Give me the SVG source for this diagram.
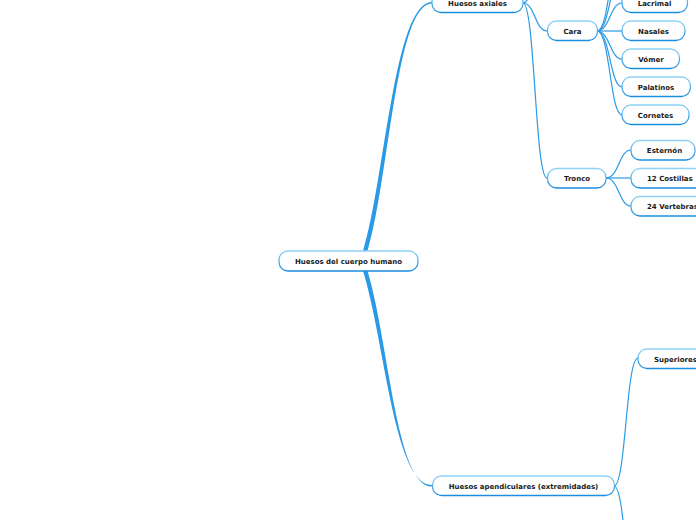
<svg xmlns="http://www.w3.org/2000/svg" width="696" height="520" viewBox="0 0 696 520">
<defs>
<linearGradient id="bd" x1="0" y1="0" x2="0" y2="1">
<stop offset="0" stop-color="#8fd1f7"/>
<stop offset="1" stop-color="#1a8de0"/>
</linearGradient>
<style>
.n{fill:#fff;stroke:url(#bd);stroke-width:1.3}
.t{font-family:"DejaVu Sans",Verdana,sans-serif;font-weight:bold;font-size:7px;fill:#1a1a1a;text-anchor:middle;dominant-baseline:central}
.tl{font-family:"DejaVu Sans",Verdana,sans-serif;font-weight:bold;font-size:7px;fill:#1a1a1a;dominant-baseline:central}
.c{fill:none;stroke:#2a9ae6;stroke-width:1.2}
.f{fill:#2a9ae6}
</style>
</defs>
<rect width="696" height="520" fill="#fff"/>
<g id="connectors">
<path class="f" d="M363,251 C385,180 394,2 432,2 L432,3.6 C396,3.6 389,180 367.5,251 Z"/>
<path class="f" d="M363,271 C385,342 394,485 432,485 L432,486.6 C396,486.6 389,342 367.5,271 Z"/>
<path class="c" d="M523,3 C535,3 535,31 547,31"/>
<path class="c" d="M523,3 C535,3 535,178 547,178"/>
<path class="c" d="M523,3 C530,3 530,-15 547,-20"/>
<path class="c" d="M597,31 C610,31 610,3 622,3"/>
<path class="c" d="M597,31 C610,31 610,-25 622,-25"/>
<path class="c" d="M597,31 C610,31 610,-53 622,-53"/>
<path class="c" d="M597,31 L622,31"/>
<path class="c" d="M597,31 C610,31 610,59 622,59"/>
<path class="c" d="M597,31 C610,31 610,87 622,87"/>
<path class="c" d="M597,31 C610,31 610,115 622,115"/>
<path class="c" d="M606,178 C619,178 619,150 631,150"/>
<path class="c" d="M606,178 L631,178"/>
<path class="c" d="M606,178 C619,178 619,206 631,206"/>
<path class="c" d="M614,486 C626,486 626,358 638,358"/>
<path class="c" d="M614,486 C626,486 626,614 638,614"/>
</g>
<g id="root"><rect class="n" x="279" y="251" width="139" height="20" rx="9"/><text class="t" x="348.5" y="261.7">Huesos del cuerpo humano</text></g>
<g id="axiales"><rect class="n" x="432" y="-7" width="91" height="19.5" rx="9"/><text class="t" x="477.5" y="3.7">Huesos axiales</text></g>
<g id="cara"><rect class="n" x="547.5" y="21" width="50" height="19.5" rx="9"/><text class="t" x="572.5" y="31.7">Cara</text></g>
<g id="lacrimal"><rect class="n" x="622" y="-7" width="65.5" height="19.5" rx="9"/><text class="t" x="654.5" y="3.7">Lacrimal</text></g>
<g id="nasales"><rect class="n" x="622" y="21" width="63" height="19.5" rx="9"/><text class="t" x="653.5" y="31.7">Nasales</text></g>
<g id="vomer"><rect class="n" x="622" y="49" width="57.5" height="19.5" rx="9"/><text class="t" x="651" y="59.7">Vómer</text></g>
<g id="palatinos"><rect class="n" x="622" y="77" width="68.5" height="19.5" rx="9"/><text class="t" x="656" y="87.7">Palatinos</text></g>
<g id="cornetes"><rect class="n" x="622" y="105" width="67" height="19.5" rx="9"/><text class="t" x="655.5" y="115.7">Cornetes</text></g>
<g id="tronco"><rect class="n" x="547.5" y="168.5" width="58.5" height="19.5" rx="9"/><text class="t" x="577" y="179">Tronco</text></g>
<g id="esternon"><rect class="n" x="631" y="140.5" width="64" height="19.5" rx="9"/><text class="t" x="664.5" y="151">Esternón</text></g>
<g id="costillas"><rect class="n" x="631" y="168.5" width="80" height="19.5" rx="9"/><text class="tl" x="647" y="179">12 Costillas</text></g>
<g id="vertebras"><rect class="n" x="631" y="196.5" width="85" height="19.5" rx="9"/><text class="tl" x="647" y="207">24 Vertebras</text></g>
<g id="superiores"><rect class="n" x="638" y="349" width="80" height="19.5" rx="9"/><text class="tl" x="654" y="359.5">Superiores</text></g>
<g id="apendiculares"><rect class="n" x="432.5" y="476" width="182" height="19.5" rx="9"/><text class="t" x="523.5" y="486.5">Huesos apendiculares (extremidades)</text></g>
</svg>
